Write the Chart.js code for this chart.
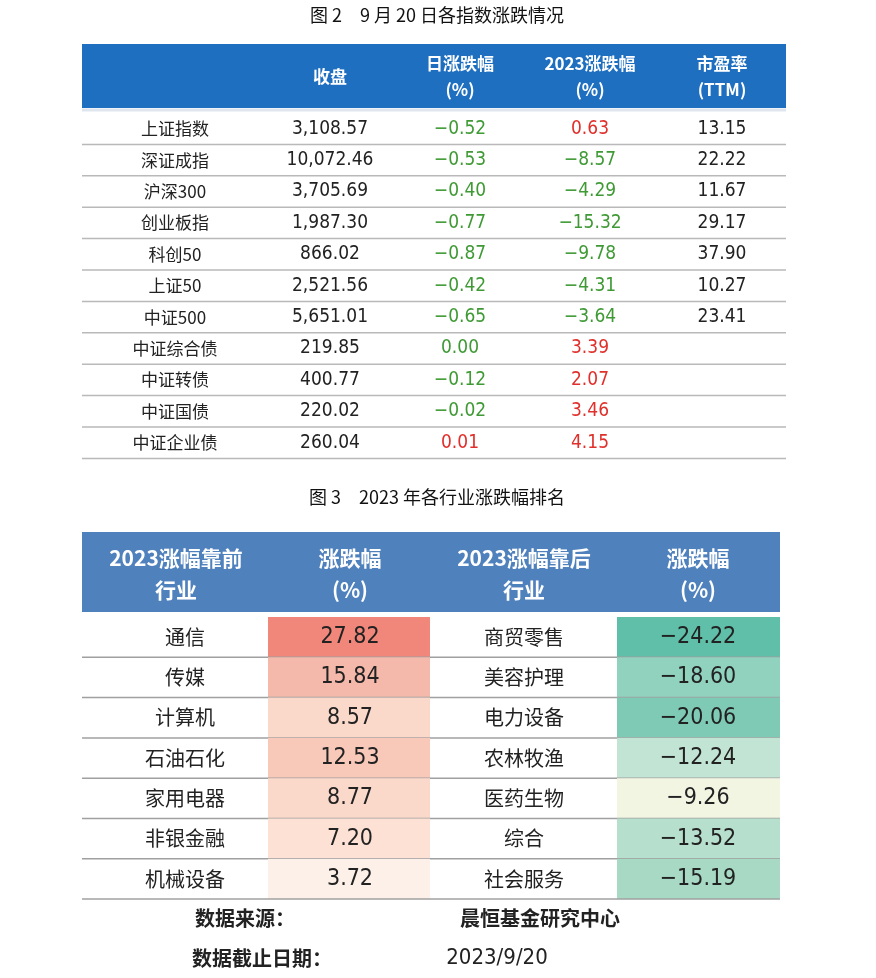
<!DOCTYPE html>
<html><head><meta charset="utf-8">
<script src="https://cdn.jsdelivr.net/npm/chart.js@4.4.0/dist/chart.umd.min.js"></script>
<style>html,body{margin:0;padding:0;background:#fff}#w{width:876px;height:978px}</style>
</head><body><div id="w"><canvas id="c"></canvas></div>
<script>
const title1 = "图 2　9 月 20 日各指数涨跌情况";
const title2 = "图 3　2023 年各行业涨跌幅排名";
const headers1 = [["收盘"], ["日涨跌幅", "(%)"], ["2023涨跌幅", "(%)"], ["市盈率", "(TTM)"]];
const indexNames = ["上证指数","深证成指","沪深300","创业板指","科创50","上证50","中证500","中证综合债","中证转债","中证国债","中证企业债"];
const closes = ["3,108.57","10,072.46","3,705.69","1,987.30","866.02","2,521.56","5,651.01","219.85","400.77","220.02","260.04"];
const dailyChg = [-0.52,-0.53,-0.40,-0.77,-0.87,-0.42,-0.65,0.00,-0.12,-0.02,0.01];
const ytdChg = [0.63,-8.57,-4.29,-15.32,-9.78,-4.31,-3.64,3.39,2.07,3.46,4.15];
const peTTM = ["13.15","22.22","11.67","29.17","37.90","10.27","23.41","","","",""];
const headers2 = [["2023涨幅靠前","行业"],["涨跌幅","(%)"],["2023涨幅靠后","行业"],["涨跌幅","(%)"]];
const topInd = ["通信","传媒","计算机","石油石化","家用电器","非银金融","机械设备"];
const topVal = [27.82,15.84,8.57,12.53,8.77,7.20,3.72];
const botInd = ["商贸零售","美容护理","电力设备","农林牧渔","医药生物","综合","社会服务"];
const botVal = [-24.22,-18.60,-20.06,-12.24,-9.26,-13.52,-15.19];
const topColors = ["#f1877a","#f5b9ab","#fad9cb","#f8c9b9","#fad8ca","#fce1d4","#fdf0e8"];
const botColors = ["#5fbfa8","#91d2bf","#7fcab5","#c2e4d4","#f2f5e2","#b7dfcd","#a7d9c5"];
const footer = [["数据来源：","晨恒基金研究中心"],["数据截止日期：","2023/9/20"]];

const CJK = '"Noto Sans CJK SC","Noto Sans",sans-serif';
const NUM = '"Liberation Sans Narrow","DejaVu Sans Condensed","Liberation Sans",sans-serif';
const RED = "#e0302c", GREEN = "#3f9a35";
const fmt = v => (v < 0 ? "−" : "") + Math.abs(v).toFixed(2);

const tablePlugin = {
  id: 'tables',
  afterDraw(chart) {
    const ctx = chart.ctx, X = v => chart.scales.x.getPixelForValue(v), Y = v => chart.scales.y.getPixelForValue(v);
    const text = (s, x, y, font, color) => { ctx.font = font; ctx.fillStyle = color || "#222"; ctx.textAlign = "center"; ctx.textBaseline = "middle"; ctx.fillText(s, X(x), Y(y)); };
    const rect = (x0, y0, x1, y1, c) => { ctx.fillStyle = c; ctx.fillRect(X(x0), Y(y0), X(x1) - X(x0), Y(y1) - Y(y0)); };
    const hline = (x0, x1, y, c, w) => { ctx.strokeStyle = c; ctx.lineWidth = w; ctx.beginPath(); ctx.moveTo(X(x0), Y(y)); ctx.lineTo(X(x1), Y(y)); ctx.stroke(); };
    ctx.save();
    text(title1, 437, 15, '18px ' + CJK, "#111");
    text(title2, 437, 497, '18px ' + CJK, "#111");
    // table 1
    rect(82, 44, 786, 108, "#1f6fc1");
    const c1 = [330, 460, 590, 722];
    headers1.forEach((h, i) => {
      if (h.length === 1) text(h[0], c1[i], 77, 'bold 17px ' + CJK, "#fff");
      else { text(h[0], c1[i], 64, 'bold 17px ' + CJK, "#fff"); text(h[1], c1[i], 90, 'bold 17px ' + CJK, "#fff"); }
    });
    const r0 = 113, rh = 31.4;
    indexNames.forEach((n, i) => {
      const cy = r0 + rh * (i + 0.5);
      hline(82, 786, r0 + rh * (i + 1), "#b9b9b9", 1.5);
      text(n, 175, cy, '17px ' + CJK, "#222");
      text(closes[i], 330, cy, '19px ' + NUM, "#222");
      text(fmt(dailyChg[i]), 460, cy, '19px ' + NUM, dailyChg[i] > 0 ? RED : GREEN);
      text(fmt(ytdChg[i]), 590, cy, '19px ' + NUM, ytdChg[i] > 0 ? RED : GREEN);
      if (peTTM[i]) text(peTTM[i], 722, cy, '19px ' + NUM, "#222");
    });
    hline(82, 786, 110, "#dfe6ee", 3);
    // table 2
    rect(82, 532, 780, 612, "#4f81bd");
    const c2 = [176, 350, 524, 698];
    headers2.forEach((h, i) => {
      text(h[0], c2[i], 558, 'bold 21px ' + CJK, "#fff");
      text(h[1], c2[i], 590, 'bold 21px ' + CJK, "#fff");
    });
    const s0 = 617, sh = 40.3;
    topInd.forEach((n, i) => {
      const y0 = s0 + sh * i, cy = y0 + sh / 2;
      rect(268, y0, 430, y0 + sh, topColors[i]);
      rect(617, y0, 780, y0 + sh, botColors[i]);
      text(n, 185, cy, '20px ' + CJK, "#222");
      text(topVal[i].toFixed(2), 350, cy, '23px ' + NUM, "#222");
      text(botInd[i], 524, cy, '20px ' + CJK, "#222");
      text(fmt(botVal[i]), 698, cy, '23px ' + NUM, "#222");
      hline(82, 780, y0 + sh, "#a0a0a0", 1.5);
    });
    // footer
    text(footer[0][0], 245, 918, 'bold 20px ' + CJK, "#222");
    text(footer[0][1], 540, 918, 'bold 20px ' + CJK, "#222");
    text(footer[1][0], 262, 958, 'bold 20px ' + CJK, "#222");
    text(footer[1][1], 497, 958, '22px ' + NUM, "#222");
    ctx.restore();
  }
};

new Chart(document.getElementById('c'), {
  type: 'scatter',
  data: { datasets: [{ data: [], pointRadius: 0 }] },
  options: {
    responsive: true, maintainAspectRatio: false, animation: false,
    layout: { padding: 0 },
    plugins: { legend: { display: false }, tooltip: { enabled: false } },
    scales: {
      x: { type: 'linear', min: 0, max: 876, display: false },
      y: { type: 'linear', min: 0, max: 978, reverse: true, display: false }
    }
  },
  plugins: [tablePlugin]
});
</script></body></html>
